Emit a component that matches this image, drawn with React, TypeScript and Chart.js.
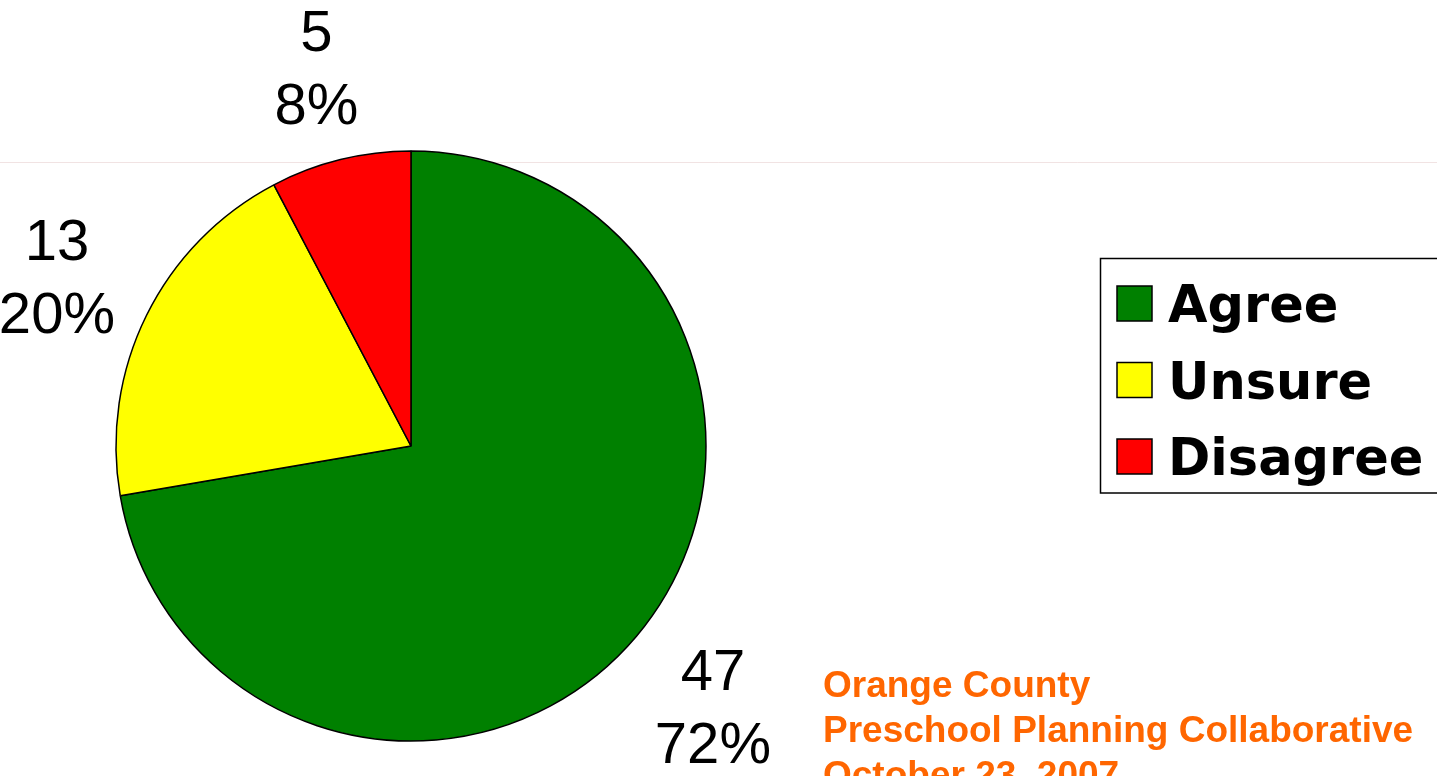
import React, { useEffect, useRef } from "react";
import { Chart, registerables } from "chart.js";

Chart.register(...registerables);

const categories = ["Agree", "Unsure", "Disagree"];
const counts = [47, 13, 5];
const percentLabels = ["72%", "20%", "8%"];
const sliceColors = ["#008000", "#FFFF00", "#FF0000"];
const footerLines = ["Orange County", "Preschool Planning Collaborative", "October 23, 2007"];

const overlayPlugin = {
  id: "overlay",
  beforeDatasetsDraw(chart: any) {
    const ctx = chart.ctx;
    ctx.save();
    ctx.strokeStyle = "rgba(235,215,215,0.7)";
    ctx.lineWidth = 1;
    ctx.beginPath();
    ctx.moveTo(0, 162.5);
    ctx.lineTo(chart.width, 162.5);
    ctx.stroke();
    ctx.restore();
  },
  afterDraw(chart: any) {
    const ctx = chart.ctx;
    const meta = chart.getDatasetMeta(0);
    ctx.save();
    // slice labels
    ctx.fillStyle = "#000";
    ctx.font = '58px "Liberation Sans", Arial, sans-serif';
    ctx.textAlign = "center";
    ctx.textBaseline = "alphabetic";
    meta.data.forEach((arc: any, i: number) => {
      const p = arc.getProps(["x", "y", "startAngle", "endAngle", "outerRadius"], true);
      const mid = (p.startAngle + p.endAngle) / 2;
      const d = p.outerRadius + 100;
      const px = p.x + Math.cos(mid) * d;
      const py = p.y + Math.sin(mid) * d + 5;
      ctx.fillText(String(counts[i]), px, py - 16);
      ctx.fillText(percentLabels[i], px, py + 57);
    });

    // legend box
    ctx.strokeStyle = "#000";
    ctx.lineWidth = 1.5;
    ctx.strokeRect(1100.5, 258.5, 400, 234.5);
    ctx.font = 'bold 51px "DejaVu Sans", sans-serif';
    ctx.textAlign = "left";
    categories.forEach((c, i) => {
      const base = 322 + i * 76.5;
      ctx.fillStyle = sliceColors[i];
      ctx.fillRect(1117, base - 36, 35, 35);
      ctx.strokeStyle = "#000";
      ctx.lineWidth = 1.5;
      ctx.strokeRect(1117, base - 36, 35, 35);
      ctx.fillStyle = "#000";
      ctx.fillText(c, 1168, base);
    });

    // footer
    ctx.fillStyle = "#FF6600";
    ctx.font = 'bold 37px "Liberation Sans", Arial, sans-serif';
    footerLines.forEach((t, i) => {
      ctx.fillText(t, 823, 697 + i * 45);
    });
    ctx.restore();
  },
};

export default function App() {
  const ref = useRef<HTMLCanvasElement | null>(null);
  useEffect(() => {
    if (!ref.current) return;
    const chart = new Chart(ref.current, {
      type: "pie",
      data: {
        labels: categories,
        datasets: [
          {
            data: counts,
            backgroundColor: sliceColors,
            borderColor: "#000",
            borderWidth: 1.5,
          },
        ],
      },
      options: {
        responsive: false,
        animation: false,
        devicePixelRatio: 1,
        radius: 295,
        layout: { padding: { left: 0, right: 615, top: 146, bottom: 30 } },
        plugins: {
          legend: { display: false },
          tooltip: { enabled: false },
        },
        events: [],
      } as any,
      plugins: [overlayPlugin],
    });
    return () => chart.destroy();
  }, []);
  return (
    <div style={{ position: "absolute", left: 0, top: 0, width: 1437, height: 776, background: "#fff" }}>
      <canvas ref={ref} width={1437} height={776} style={{ display: "block" }} />
    </div>
  );
}
